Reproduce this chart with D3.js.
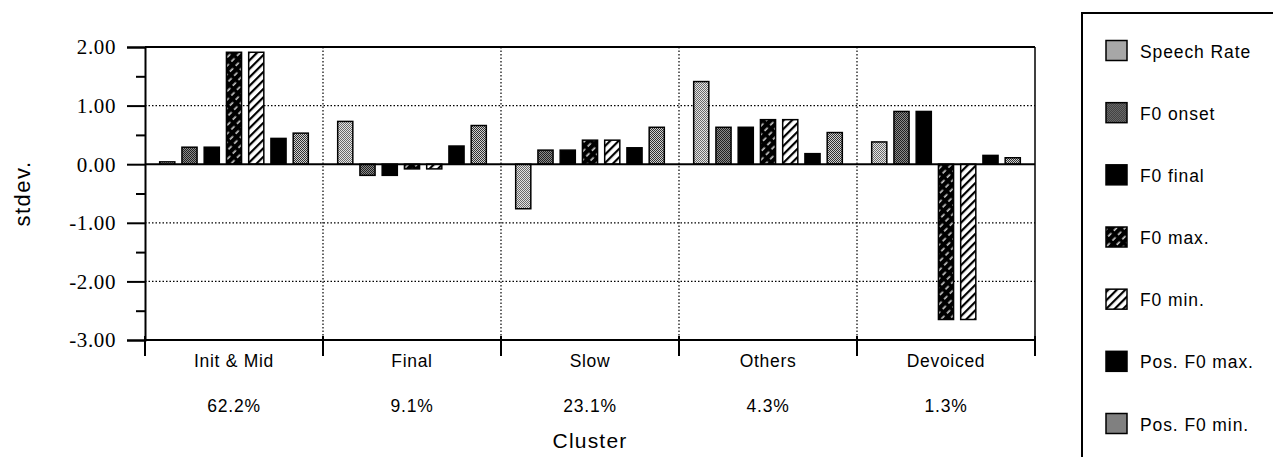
<!DOCTYPE html>
<html>
<head>
<meta charset="utf-8">
<script src="https://cdn.jsdelivr.net/npm/d3@7/dist/d3.min.js"></script>
<style>
  html, body { margin: 0; padding: 0; background: #fff; }
  svg { display: block; }
  text.serif { font-family: "Liberation Serif", "DejaVu Serif", "Times New Roman", serif; font-size: 21px; letter-spacing: 0.6px; }
</style>
</head>
<body>
<svg id="chart" width="1273" height="457"></svg>
<script>
// ---- Data ----
const categories = ["Init & Mid", "Final", "Slow", "Others", "Devoiced"];
const percentages = ["62.2%", "9.1%", "23.1%", "4.3%", "1.3%"];
const seriesNames = ["Speech Rate", "F0 onset", "F0 final", "F0 max.", "F0 min.", "Pos. F0 max.", "Pos. F0 min."];
const speechRate = [0.04, 0.73, -0.76, 1.41, 0.38];
const f0Onset    = [0.29, -0.19, 0.24, 0.63, 0.90];
const f0Final    = [0.29, -0.19, 0.24, 0.63, 0.90];
const f0Max      = [1.91, -0.08, 0.41, 0.76, -2.65];
const f0Min      = [1.91, -0.08, 0.41, 0.76, -2.65];
const posF0Max   = [0.44, 0.31, 0.28, 0.18, 0.15];
const posF0Min   = [0.53, 0.66, 0.63, 0.54, 0.11];
const yTicks = [2, 1, 0, -1, -2, -3];
const yTickLabels = ["2.00", "1.00", "0.00", "-1.00", "-2.00", "-3.00"];
const yMinorTicks = [1.5, 0.5, -0.5, -1.5, -2.5];
const yGridTicks = [1, -1, -2];

const seriesValues = [speechRate, f0Onset, f0Final, f0Max, f0Min, posF0Max, posF0Min];
const patternIds = ["p-light", "p-dark", "p-black", "p-darkhatch", "p-hatch", "p-black", "p-mid"];

const svg = d3.select("#chart");
const defs = svg.append("defs");

// ---- Patterns ----
function stipple(id, bg, fg, cells) {
  const p = defs.append("pattern").attr("id", id).attr("patternUnits", "userSpaceOnUse")
    .attr("width", 2).attr("height", 2);
  p.append("rect").attr("width", 2).attr("height", 2).attr("fill", bg).attr("shape-rendering", "crispEdges");
  cells.forEach(c => p.append("rect").attr("x", c[0]).attr("y", c[1]).attr("width", 1).attr("height", 1)
    .attr("fill", fg).attr("shape-rendering", "crispEdges"));
}
stipple("p-light", "#e4e4e4", "#6a6a6a", [[0, 0], [1, 1]]);
stipple("p-dark", "#8a8a8a", "#202020", [[0, 0], [1, 1]]);
stipple("p-mid", "#d0d0d0", "#303030", [[0, 0], [1, 1]]);
defs.append("pattern").attr("id", "p-black").attr("patternUnits", "userSpaceOnUse")
  .attr("width", 4).attr("height", 4)
  .append("rect").attr("width", 4).attr("height", 4).attr("fill", "#000");
{
  const p = defs.append("pattern").attr("id", "p-hatch").attr("patternUnits", "userSpaceOnUse")
    .attr("width", 6).attr("height", 6).attr("patternTransform", "rotate(-45)");
  p.append("rect").attr("width", 6).attr("height", 6).attr("fill", "#fff");
  p.append("rect").attr("x", 0).attr("y", 2).attr("width", 6).attr("height", 2.2).attr("fill", "#000");
}
{
  const p = defs.append("pattern").attr("id", "p-darkhatch").attr("patternUnits", "userSpaceOnUse")
    .attr("width", 8).attr("height", 6).attr("patternTransform", "rotate(-45)");
  p.append("rect").attr("width", 8).attr("height", 6).attr("fill", "#000");
  p.append("rect").attr("x", 0).attr("y", 2.5).attr("width", 4.5).attr("height", 1.3).attr("fill", "#fff");
}

// ---- Scales ----
const x0 = d3.scaleBand().domain(categories).range([145, 1035]).padding(0);
const x1 = d3.scaleBand().domain(seriesNames).range([0, x0.bandwidth()])
  .paddingInner(0.32).paddingOuter(0.66);
const y = d3.scaleLinear().domain([-3, 2]).range([340, 47]);
const [xL, xR] = x0.range();

// ---- Grid ----
const grid = svg.append("g");
grid.selectAll("line.h").data(yGridTicks).join("line")
  .attr("x1", xL).attr("x2", xR).attr("y1", d => y(d)).attr("y2", d => y(d))
  .attr("stroke", "#000").attr("stroke-width", 1.2).attr("stroke-dasharray", "1.5,2");
grid.selectAll("line.v").data(categories.slice(1)).join("line")
  .attr("x1", d => x0(d)).attr("x2", d => x0(d)).attr("y1", y(2)).attr("y2", y(-3))
  .attr("stroke", "#000").attr("stroke-width", 1.2).attr("stroke-dasharray", "1.5,2");

// ---- Bars ----
const flat = [];
categories.forEach((c, ci) => seriesNames.forEach((s, si) => flat.push({ c, s, si, v: seriesValues[si][ci] })));
svg.append("g").selectAll("rect").data(flat).join("rect")
  .attr("x", d => x0(d.c) + x1(d.s))
  .attr("width", x1.bandwidth())
  .attr("y", d => y(Math.max(0, d.v)))
  .attr("height", d => Math.abs(y(d.v) - y(0)))
  .attr("fill", d => `url(#${patternIds[d.si]})`)
  .attr("stroke", "#000").attr("stroke-width", 1.5);

// ---- Frame / axes ----
svg.append("line").attr("x1", xL).attr("x2", xR).attr("y1", y(0)).attr("y2", y(0))
  .attr("stroke", "#000").attr("stroke-width", 2);
svg.append("line").attr("x1", xL).attr("x2", xR).attr("y1", y(2)).attr("y2", y(2))
  .attr("stroke", "#000").attr("stroke-width", 2);
svg.append("line").attr("x1", xR).attr("x2", xR).attr("y1", y(2)).attr("y2", y(-3))
  .attr("stroke", "#000").attr("stroke-width", 1.5);

const yAxis = svg.append("g").attr("transform", `translate(${xL},0)`)
  .call(d3.axisLeft(y).tickValues(yTicks).tickSize(18).tickFormat(""));
yAxis.select(".domain").attr("stroke-width", 2);
yAxis.selectAll(".tick line").attr("stroke-width", 2);
svg.append("g").selectAll("text").data(yTicks).join("text")
  .attr("class", "serif")
  .attr("x", xL - 29).attr("y", d => y(d)).attr("dy", "0.35em")
  .attr("text-anchor", "end").attr("fill", "#000")
  .text((d, i) => yTickLabels[i]);
const yMinor = svg.append("g").attr("transform", `translate(${xL},0)`)
  .call(d3.axisLeft(y).tickValues(yMinorTicks).tickSize(9).tickFormat(""));
yMinor.select(".domain").remove();
yMinor.selectAll(".tick line").attr("stroke-width", 2);

// bottom axis
const boundaries = categories.map(c => x0(c)).concat([xR]);
svg.append("line").attr("x1", xL).attr("x2", xR).attr("y1", y(-3)).attr("y2", y(-3))
  .attr("stroke", "#000").attr("stroke-width", 2);
svg.append("g").selectAll("line").data(boundaries).join("line")
  .attr("x1", d => d).attr("x2", d => d).attr("y1", y(-3) - 4).attr("y2", y(-3) + 16)
  .attr("stroke", "#000").attr("stroke-width", 2);

const sans = "'Liberation Sans', Arial, Helvetica, sans-serif";
svg.append("g").selectAll("text").data(categories).join("text")
  .attr("x", d => x0(d) + x0.bandwidth() / 2).attr("y", 361)
  .attr("text-anchor", "middle").attr("dominant-baseline", "central")
  .attr("font-family", sans).attr("font-size", 17.5).attr("letter-spacing", 0.7)
  .text(d => d);
svg.append("g").selectAll("text").data(percentages).join("text")
  .attr("x", (d, i) => x0(categories[i]) + x0.bandwidth() / 2).attr("y", 406)
  .attr("text-anchor", "middle").attr("dominant-baseline", "central")
  .attr("font-family", sans).attr("font-size", 17.5).attr("letter-spacing", 0.8)
  .text(d => d);
svg.append("text").attr("x", (xL + xR) / 2).attr("y", 440)
  .attr("text-anchor", "middle").attr("dominant-baseline", "central")
  .attr("font-family", sans).attr("font-size", 21).attr("letter-spacing", 1.2)
  .text("Cluster");
svg.append("text").attr("transform", `translate(22,${(y(2) + y(-3)) / 2}) rotate(-90)`)
  .attr("text-anchor", "middle").attr("dominant-baseline", "central")
  .attr("font-family", sans).attr("font-size", 22).attr("letter-spacing", 1.5)
  .text("stdev.");

// ---- Legend ----
svg.append("path").attr("d", "M1082,457 V13 H1280").attr("fill", "none")
  .attr("stroke", "#000").attr("stroke-width", 2);
const legendY = d3.scalePoint().domain(seriesNames).range([50.5, 423.5]);
const lg = svg.append("g").selectAll("g").data(seriesNames).join("g")
  .attr("transform", d => `translate(0,${legendY(d)})`);
lg.append("rect").attr("x", 1106).attr("y", -10).attr("width", 21).attr("height", 20)
  .attr("fill", (d, i) => `url(#${patternIds[i]})`).attr("stroke", "#000").attr("stroke-width", 1.5);
lg.append("text").attr("x", 1140).attr("y", 1).attr("dominant-baseline", "central")
  .attr("font-family", sans).attr("font-size", 17.5).attr("letter-spacing", 0.9)
  .text(d => d);
</script>
</body>
</html>
